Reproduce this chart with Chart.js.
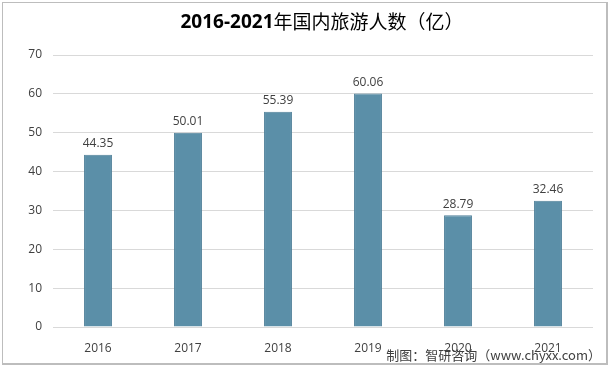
<!DOCTYPE html>
<html><head><meta charset="utf-8">
<script src="https://cdn.jsdelivr.net/npm/chart.js@4/dist/chart.umd.min.js"></script>
<style>
html,body{margin:0;padding:0;background:#fff;}
#wrap{position:relative;width:611px;height:368px;}
#frame{position:absolute;left:2px;top:2px;width:603px;height:360px;border:1px solid #bdbdbd;border-right:2px solid #bdbdbd;border-bottom:2px solid #bdbdbd;pointer-events:none;}
canvas{position:absolute;left:0;top:0;}
</style></head>
<body><div id="wrap"><canvas id="c" width="611" height="368"></canvas><div id="frame"></div></div>
<script>
const categories = ['2016','2017','2018','2019','2020','2021'];
const visitors = [44.35, 50.01, 55.39, 60.06, 28.79, 32.46];
const yTicks = [0,10,20,30,40,50,60,70];
const titleNum = '2016-2021';
const titleText = '年国内旅游人数（亿）';
const footerText = '制图：智研咨询（www.chyxx.com）';

const fontLatin = "'Open Sans','Liberation Sans','Noto Sans CJK SC',sans-serif";
const fontCJK = "'Noto Sans CJK SC',sans-serif";

const deco = {
  id:'deco',
  afterDatasetsDraw(chart){
    const ctx = chart.ctx;
    const meta = chart.getDatasetMeta(0);
    ctx.save();
    ctx.fillStyle = '#404040';
    ctx.font = "12px " + fontLatin;
    ctx.textAlign = 'center';
    ctx.textBaseline = 'bottom';
    meta.data.forEach((bar,i)=>{
      ctx.fillText(visitors[i].toFixed(2), bar.x, bar.y - 5);
    });
    // title
    ctx.textBaseline = 'middle';
    ctx.textAlign = 'left';
    ctx.fillStyle = '#000';
    const f1 = "bold 19px " + fontLatin;
    const f2 = "19px " + fontCJK;
    ctx.font = f1; const w1 = ctx.measureText(titleNum).width;
    ctx.font = f2; const w2 = ctx.measureText(titleText).width;
    let x0 = 322 - (w1+w2)/2;
    ctx.font = f1; ctx.fillText(titleNum, x0, 23);
    ctx.font = f2; ctx.fillText(titleText, x0 + w1, 22);
    // footer
    ctx.font = "13px " + fontCJK;
    ctx.fillStyle = '#404040';
    ctx.textAlign = 'right';
    ctx.fillText(footerText, 601, 355);
    ctx.restore();
  }
};

new Chart(document.getElementById('c'), {
  type:'bar',
  data:{labels:categories, datasets:[{data:visitors, backgroundColor:'#5b8fa8', borderColor:'#4e7f98', borderWidth:1, barPercentage:0.31, categoryPercentage:1}]},
  options:{
    responsive:false, animation:false,
    layout:{padding:{left:0,right:18,top:55,bottom:11}},
    plugins:{legend:{display:false}, title:{display:false}, tooltip:{enabled:false}},
    scales:{
      x:{grid:{display:false}, border:{display:false},
         ticks:{color:'#404040', font:{size:12, family:fontLatin}, padding:6},
         afterFit(s){ s.height = 30; }},
      y:{min:0,max:70, afterBuildTicks(s){ s.ticks = yTicks.map(v=>({value:v})); },
         grid:{color:'#d9d9d9', lineWidth:1, drawTicks:false}, border:{display:false},
         ticks:{color:'#404040', font:{size:12, family:fontLatin}, padding:11},
         afterFit(s){ s.width = 53; }}
    }
  },
  plugins:[deco]
});
</script></body></html>
